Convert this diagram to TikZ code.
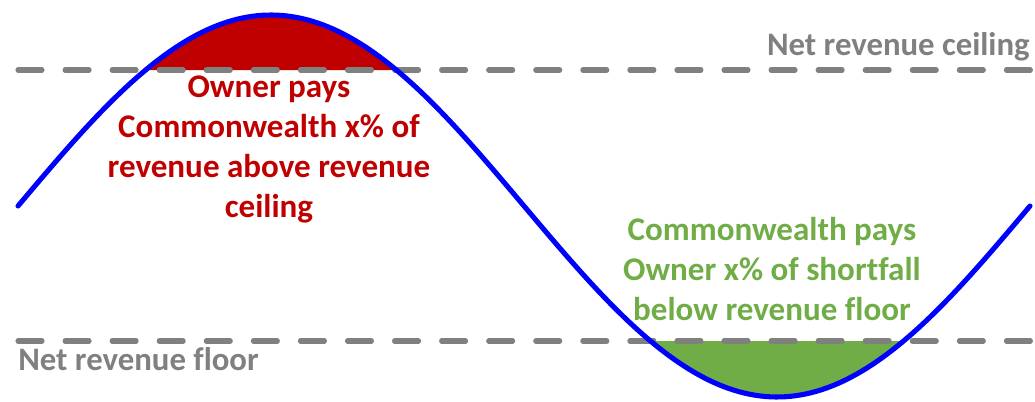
\documentclass[tikz,border=0pt]{standalone}
\usepackage{fontspec}
\setmainfont[Ligatures = NoCommon]{Carlito}
\usepackage{tikz}
\usetikzlibrary{positioning}
\definecolor{ceilred}{HTML}{C00000}
\definecolor{floorgreen}{HTML}{70AD47}
\definecolor{limitgray}{HTML}{808080}
\tikzstyle{wave} = [draw = blue, line width = 3.8pt, line cap = round]
\tikzstyle{limit} = [draw = limitgray, line width = 3.8pt, line cap = round, dash pattern = on 18pt off 17.3pt]
\tikzstyle{note} = [align = center, inner sep = 0pt, font = \fontsize{24.8}{30}\selectfont\bfseries]
\tikzstyle{label} = [inner sep = 0pt, text = limitgray, font = \fontsize{24.6}{30}\selectfont\bfseries]

\begin{document}
\begin{tikzpicture}[x = 0.75pt, y = -0.75pt]
			\useasboundingbox (0, 0) rectangle (1035, 402);
			% Shaded areas
			\fill [ceilred] plot [domain = 145.6:396.4, samples = 80] (\x, {206-191*sin((\x-18)/1012*360)}) -- cycle;
			\fill [floorgreen] plot [domain = 650.5:903.5, samples = 80] (\x, {206-191*sin((\x-18)/1012*360)}) -- cycle;
			
			% Limits
			\path [limit] (18, 70) -- (1032, 70);
			\path [limit] (18, 341) -- (1032, 341);
			
			% Revenue curve
			\path [wave] plot [domain = 18:1030, samples = 200] (\x, {206-191*sin((\x-18)/1012*360)});
			
			% Texts
			\node [note, text = ceilred] (above) at (269, 149) {Owner pays\\Commonwealth x\% of\\revenue above revenue\\ceiling};
			\node [note, text = floorgreen] (below) at (772, 269) {Commonwealth pays\\Owner x\% of shortfall\\below revenue floor};
			\node [label, anchor = east] (ceiling) at (1030, 47) {Net revenue ceiling};
			\node [label, anchor = west] (floor) at (18, 359) {Net revenue floor};
		\end{tikzpicture}
\end{document}
